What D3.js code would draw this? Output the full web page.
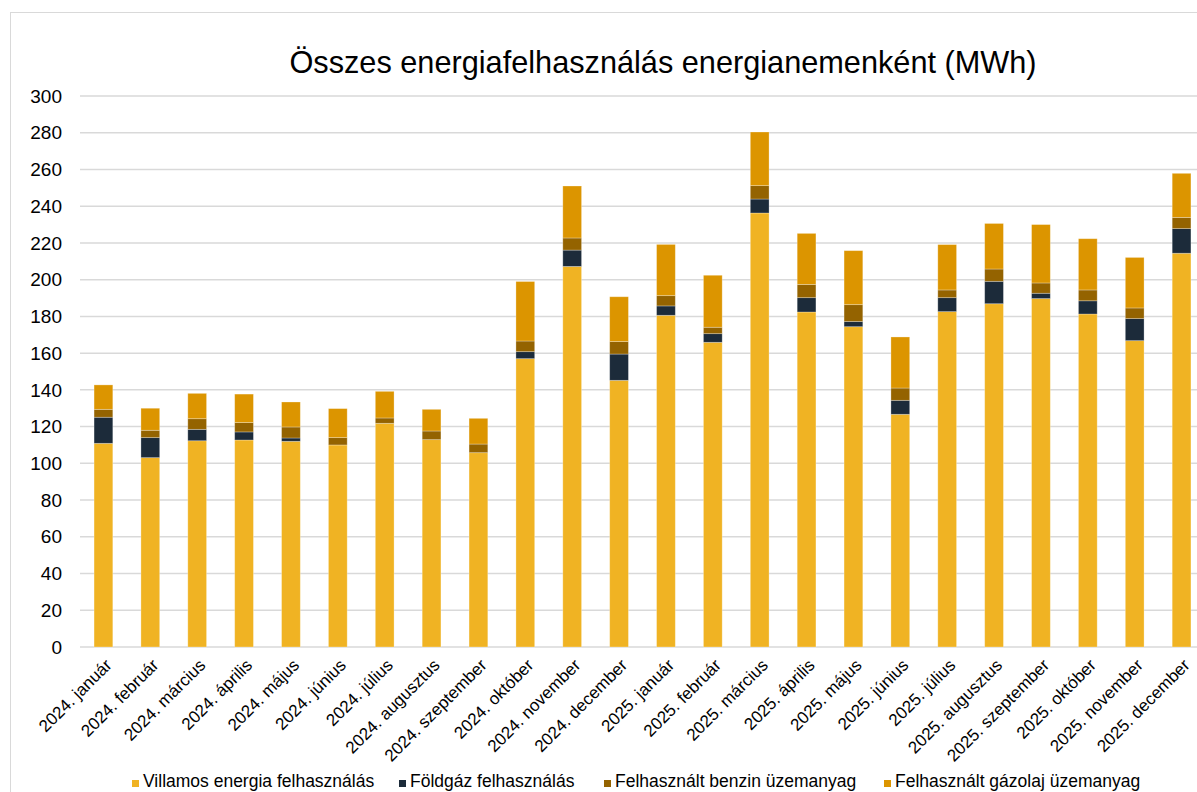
<!DOCTYPE html>
<html>
<head>
<meta charset="utf-8">
<script src="https://cdn.jsdelivr.net/npm/d3@7"></script>
<style>
  body { margin: 0; background: #fff; }
  svg { font-family: "Liberation Sans", Arial, sans-serif; display: block; }
</style>
</head>
<body>
<div id="chart"></div>
<script>
var months = ["2024. január", "2024. február", "2024. március", "2024. április", "2024. május", "2024. június",
  "2024. július", "2024. augusztus", "2024. szeptember", "2024. október", "2024. november", "2024. december",
  "2025. január", "2025. február", "2025. március", "2025. április", "2025. május", "2025. június",
  "2025. július", "2025. augusztus", "2025. szeptember", "2025. október", "2025. november", "2025. december"];
var villamos = [110.9, 103.1, 112.3, 112.7, 112.0, 110.0, 121.8, 112.9, 105.8, 157.0, 207.2, 145.2,
  180.6, 165.9, 236.3, 182.4, 174.4, 126.7, 182.6, 186.9, 189.7, 181.3, 166.8, 214.4];
var foldgaz = [14.2, 10.9, 6.2, 4.4, 1.8, 0, 0, 0, 0, 3.8, 8.9, 14.3,
  5.1, 4.7, 7.6, 7.8, 2.8, 7.6, 7.6, 12.2, 2.9, 7.2, 12.0, 13.4];
var benzin = [4.3, 4.0, 5.8, 5.1, 6.0, 4.0, 2.9, 4.7, 4.7, 5.8, 6.6, 6.8,
  5.6, 3.5, 7.3, 7.2, 9.2, 6.7, 4.2, 6.7, 5.6, 5.9, 5.8, 6.1];
var gazolaj = [13.3, 12.0, 13.8, 15.5, 13.6, 15.8, 14.5, 11.8, 14.0, 32.4, 28.3, 24.4,
  27.9, 28.3, 29.2, 27.8, 29.4, 27.8, 24.7, 24.8, 31.8, 27.9, 27.5, 24.0];
var seriesNames = ["Villamos energia felhasználás", "Földgáz felhasználás", "Felhasznált benzin üzemanyag", "Felhasznált gázolaj üzemanyag"];
var colors = ["#F0B323", "#1C2B3A", "#946300", "#DC9500"];
var yTicks = [0, 20, 40, 60, 80, 100, 120, 140, 160, 180, 200, 220, 240, 260, 280, 300];

var svgWidth = 1197, svgHeight = 792;
var margin = {top: 96, left: 80, bottom: 145};
var width = 1125;
var height = svgHeight - margin.top - margin.bottom;

var svg = d3.select("#chart").append("svg")
  .attr("width", svgWidth)
  .attr("height", svgHeight);

// chart frame (cut off on the right and bottom like the original)
svg.append("rect")
  .attr("x", 10.5).attr("y", 12.5)
  .attr("width", 1300).attr("height", 900)
  .attr("fill", "none").attr("stroke", "#d9d9d9");

var table = months.map(function(m, i) {
  return {month: m, v: villamos[i], g: foldgaz[i], b: benzin[i], d: gazolaj[i]};
});
var keys = ["v", "g", "b", "d"];
var stacked = d3.stack().keys(keys)(table);

var x = d3.scaleBand().domain(months).range([0, width]).paddingInner(0.6).paddingOuter(0.3);
var y = d3.scaleLinear().domain([0, 300]).range([height, 0]);

var chart = svg.append("g").attr("transform", "translate(" + margin.left + "," + margin.top + ")");

chart.append("g").selectAll("line")
  .data(yTicks)
  .enter().append("line")
  .attr("x1", 0).attr("x2", width)
  .attr("y1", function(d) { return y(d); })
  .attr("y2", function(d) { return y(d); })
  .attr("stroke", "#d9d9d9").attr("stroke-width", 1.5);

chart.append("g").selectAll("text")
  .data(yTicks)
  .enter().append("text")
  .attr("x", -18)
  .attr("y", function(d) { return y(d); })
  .attr("dy", "0.35em")
  .attr("text-anchor", "end")
  .style("font-size", "19px")
  .attr("fill", "#000")
  .text(function(d) { return d; });

chart.selectAll("g.layer")
  .data(stacked)
  .enter().append("g")
  .attr("class", "layer")
  .attr("fill", function(d, i) { return colors[i]; })
  .selectAll("rect")
  .data(function(d) { return d; })
  .enter().append("rect")
  .attr("x", function(d) { return x(d.data.month); })
  .attr("width", x.bandwidth())
  .attr("y", function(d) { return y(d[1]); })
  .attr("height", function(d) { return y(d[0]) - y(d[1]); })
  .attr("stroke", "#fff")
  .attr("stroke-opacity", 0.35)
  .attr("stroke-width", 0.8);

chart.append("g").selectAll("text")
  .data(months)
  .enter().append("text")
  .attr("transform", function(d) {
    return "translate(" + (x(d) + x.bandwidth() / 2 + 5) + "," + (height + 15) + ") rotate(-45)";
  })
  .attr("text-anchor", "end")
  .attr("dy", "0.35em")
  .style("font-size", "17px")
  .attr("fill", "#000")
  .text(function(d) { return d; });

svg.append("text")
  .attr("x", 663).attr("y", 73)
  .attr("text-anchor", "middle")
  .style("font-size", "30.7px")
  .attr("fill", "#000")
  .text("Összes energiafelhasználás energianemenként (MWh)");

var legendX = [132, 399, 604, 884];
var legend = svg.append("g").selectAll("g")
  .data(seriesNames)
  .enter().append("g")
  .attr("transform", function(d, i) { return "translate(" + legendX[i] + ",787)"; });
legend.append("rect")
  .attr("x", 0).attr("y", -7).attr("width", 7).attr("height", 7)
  .attr("fill", function(d, i) { return colors[i]; });
legend.append("text")
  .attr("x", 11).attr("y", 0)
  .style("font-size", "17.5px")
  .attr("fill", "#000")
  .text(function(d) { return d; });
</script>
</body>
</html>
